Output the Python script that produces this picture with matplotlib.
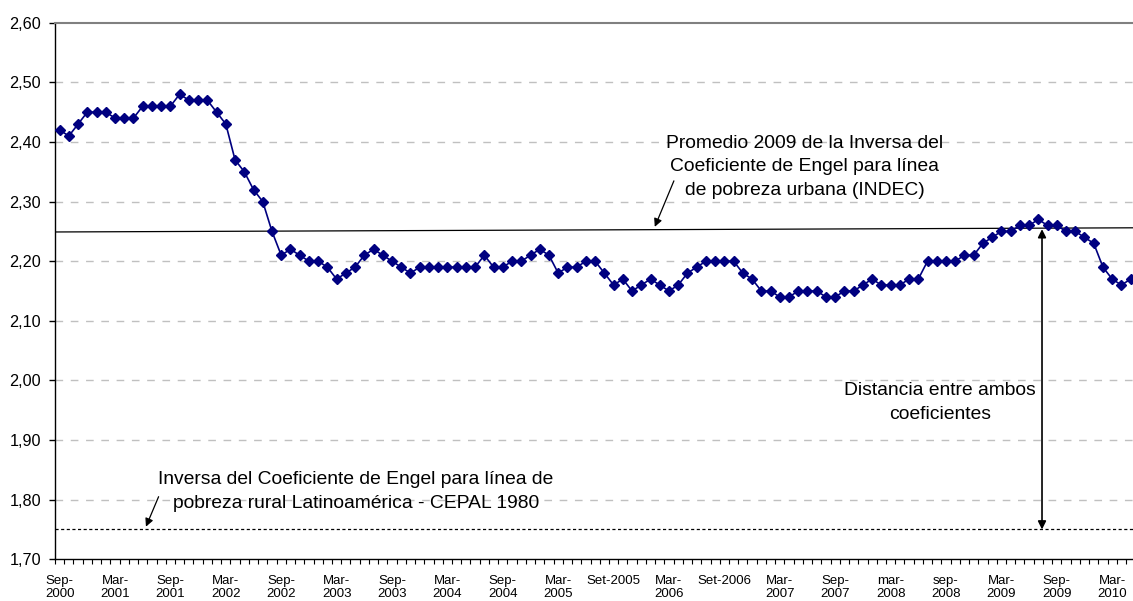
import matplotlib
matplotlib.use("Agg")
import matplotlib.pyplot as plt
import numpy as np

plt.rcParams['font.family'] = ['Liberation Sans', 'DejaVu Sans']

# Monthly values Sep-2000 .. May-2010
values = [2.42, 2.41, 2.43, 2.45, 2.45, 2.45, 2.44, 2.44, 2.44, 2.46,
          2.46, 2.46, 2.46, 2.48, 2.47, 2.47, 2.47, 2.45, 2.43, 2.37,
          2.35, 2.32, 2.30, 2.25, 2.21, 2.22, 2.21, 2.20, 2.20, 2.19,
          2.17, 2.18, 2.19, 2.21, 2.22, 2.21, 2.20, 2.19, 2.18, 2.19,
          2.19, 2.19, 2.19, 2.19, 2.19, 2.19, 2.21, 2.19, 2.19, 2.20,
          2.20, 2.21, 2.22, 2.21, 2.18, 2.19, 2.19, 2.20, 2.20, 2.18,
          2.16, 2.17, 2.15, 2.16, 2.17, 2.16, 2.15, 2.16, 2.18, 2.19,
          2.20, 2.20, 2.20, 2.20, 2.18, 2.17, 2.15, 2.15, 2.14, 2.14,
          2.15, 2.15, 2.15, 2.14, 2.14, 2.15, 2.15, 2.16, 2.17, 2.16,
          2.16, 2.16, 2.17, 2.17, 2.20, 2.20, 2.20, 2.20, 2.21, 2.21,
          2.23, 2.24, 2.25, 2.25, 2.26, 2.26, 2.27, 2.26, 2.26, 2.25,
          2.25, 2.24, 2.23, 2.19, 2.17, 2.16, 2.17]

tick_labels = ["Sep-\n2000", "Mar-\n2001", "Sep-\n2001", "Mar-\n2002", "Sep-\n2002",
               "Mar-\n2003", "Sep-\n2003", "Mar-\n2004", "Sep-\n2004", "Mar-\n2005",
               "Set-2005", "Mar-\n2006", "Set-2006", "Mar-\n2007", "Sep-\n2007",
               "mar-\n2008", "sep-\n2008", "Mar-\n2009", "Sep-\n2009", "Mar-\n2010"]

promedio_line = [2.249, 2.256]   # INDEC 2009 average line (left, right)
cepal_value = 1.75
y_ticks = [1.70, 1.80, 1.90, 2.00, 2.10, 2.20, 2.30, 2.40, 2.50, 2.60]

n = len(values)
x = np.arange(n)

fig = plt.figure(figsize=(11.33, 6.01), dpi=100)
ax = fig.add_axes([55/1133, (601-559.3)/601, (1133-55)/1133 + 0.002, (559.3-22.7)/601])

ax.set_xlim(-0.5, n - 0.5)
ax.set_ylim(1.70, 2.60)

# gridlines
for yv in y_ticks[1:-1]:
    ax.axhline(yv, color='#c0c0c0', lw=1.0, dashes=(5.5, 5.5), zorder=0)

# CEPAL dashed line
ax.axhline(cepal_value, color='black', lw=0.9, dashes=(2.5, 2.0), zorder=1)
# promedio line
ax.plot([-0.5, n - 0.5], promedio_line, color='black', lw=0.9, zorder=2)

# series
ax.plot(x, values, color='#000080', lw=1.2, marker='D', markersize=5.0,
        markerfacecolor='#000080', markeredgecolor='#000080', zorder=3)

# spines
ax.spines['right'].set_visible(False)
ax.spines['top'].set_color('#808080')
ax.spines['top'].set_linewidth(1.5)
ax.spines['left'].set_linewidth(1.0)
ax.spines['bottom'].set_linewidth(1.0)

ax.set_yticks(y_ticks)
ax.set_yticklabels([f"{v:.2f}".replace('.', ',') for v in y_ticks], fontsize=11.7)
ax.tick_params(axis='y', direction='out', length=4, width=1, pad=6)

ax.set_xticks(np.arange(0, n, 6))
ax.set_xticklabels(tick_labels[:len(np.arange(0, n, 6))], fontsize=9.5, va='top',
                   linespacing=1.12)
ax.tick_params(axis='x', which='major', length=0, pad=11)
ax.set_xticks(np.arange(-0.5, n, 1), minor=True)
ax.tick_params(axis='x', which='minor', direction='out', length=3.5, width=0.8)

txt_kw = dict(fontsize=13.9, ha='center', va='center', linespacing=1.5)

ax.text(80.7, 2.358, "Promedio 2009 de la Inversa del\nCoeficiente de Engel para línea\nde pobreza urbana (INDEC)", **txt_kw)
ax.annotate("", xy=(64.46, 2.2576), xytext=(66.53, 2.3347),
            arrowprops=dict(arrowstyle='-|>', color='black', lw=0.9,
                            mutation_scale=12, shrinkA=0, shrinkB=0))

ax.text(32.09, 1.814, "Inversa del Coeficiente de Engel para línea de\npobreza rural Latinoamérica - CEPAL 1980", **txt_kw)
ax.annotate("", xy=(9.35, 1.7547), xytext=(10.72, 1.805),
            arrowprops=dict(arrowstyle='-|>', color='black', lw=0.9,
                            mutation_scale=12, shrinkA=0, shrinkB=0))

ax.text(95.35, 1.963, "Distancia entre ambos\ncoeficientes", **txt_kw)
ax.annotate("", xy=(106.4, 2.2537), xytext=(106.4, 1.75),
            arrowprops=dict(arrowstyle='<|-|>', color='black', lw=1.2,
                            mutation_scale=12, shrinkA=0, shrinkB=0))

fig.savefig("out.png", dpi=100)
